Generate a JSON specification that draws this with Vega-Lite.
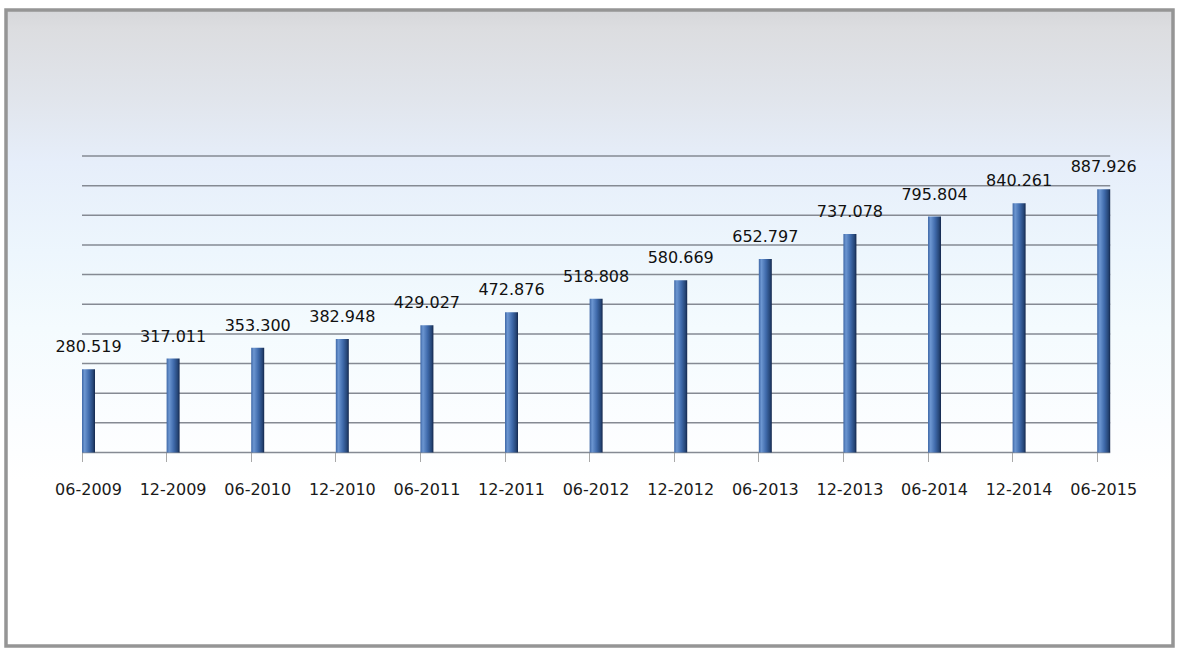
{
  "$schema": "https://vega.github.io/schema/vega-lite/v6.json",
  "width": 1179,
  "height": 650,
  "autosize": {"type": "fit", "contains": "padding"},
  "padding": {"left": 6, "top": 10, "right": 6, "bottom": 4},
  "background": "#ffffff",
  "config": {
    "view": {
      "stroke": "#959595",
      "strokeWidth": 3.5,
      "fill": {
        "gradient": "linear",
        "x1": 0, "y1": 0, "x2": 0, "y2": 1,
        "stops": [
          {"offset": 0, "color": "#d6d7da"},
          {"offset": 0.03, "color": "#dcdde0"},
          {"offset": 0.14, "color": "#e1e5ec"},
          {"offset": 0.24, "color": "#e6eefa"},
          {"offset": 0.38, "color": "#edf6fd"},
          {"offset": 0.5, "color": "#f4fbfe"},
          {"offset": 0.65, "color": "#fbfdff"},
          {"offset": 0.74, "color": "#ffffff"},
          {"offset": 1, "color": "#ffffff"}
        ]
      }
    },
    "font": "DejaVu Sans"
  },
  "datasets": {
    "bars": [
      {"period": "06-2009", "value": 280.519},
      {"period": "12-2009", "value": 317.011},
      {"period": "06-2010", "value": 353.300},
      {"period": "12-2010", "value": 382.948},
      {"period": "06-2011", "value": 429.027},
      {"period": "12-2011", "value": 472.876},
      {"period": "06-2012", "value": 518.808},
      {"period": "12-2012", "value": 580.669},
      {"period": "06-2013", "value": 652.797},
      {"period": "12-2013", "value": 737.078},
      {"period": "06-2014", "value": 795.804},
      {"period": "12-2014", "value": 840.261},
      {"period": "06-2015", "value": 887.926}
    ],
    "grid": [
      {"g": 0}, {"g": 100}, {"g": 200}, {"g": 300}, {"g": 400}, {"g": 500},
      {"g": 600}, {"g": 700}, {"g": 800}, {"g": 900}, {"g": 1000}
    ]
  },
  "layer": [
    {
      "data": {"name": "grid"},
      "mark": {"type": "rule", "color": "#858a93", "strokeWidth": 1.5},
      "encoding": {
        "x": {"datum": "06-2009", "type": "nominal", "bandPosition": 0,
              "scale": {"domain": ["06-2009","12-2009","06-2010","12-2010","06-2011","12-2011","06-2012","12-2012","06-2013","12-2013","06-2014","12-2014","06-2015"],
                        "paddingInner": 0.8463, "paddingOuter": 0.8203, "align": 0.5476},
              "axis": {
                "orient": "bottom", "offset": -193.5, "domain": false, "grid": false,
                "ticks": true, "tickColor": "#a8a8a8", "tickSize": 9, "bandPosition": 0,
                "labelOffset": 0, "labelAngle": 0, "labelFont": "DejaVu Sans", "labelFontSize": 16,
                "labelColor": "#1a1a1a", "labelPadding": 20, "title": null
              }},
        "x2": {"datum": "06-2015", "bandPosition": 1},
        "y": {"field": "g", "type": "quantitative", "scale": {"domain": [-652.6, 1492.4], "nice": false, "zero": false}, "axis": null}
      }
    },
    {
      "data": {"name": "bars"},
      "mark": {
        "type": "bar",
        "color": {
          "gradient": "linear",
          "x1": 0, "y1": 0, "x2": 1, "y2": 0,
          "stops": [
            {"offset": 0, "color": "#3e67a6"},
            {"offset": 0.2, "color": "#6c96d1"},
            {"offset": 0.55, "color": "#3f6aab"},
            {"offset": 0.85, "color": "#264677"},
            {"offset": 1, "color": "#13264b"}
          ]
        }
      },
      "encoding": {
        "x": {"field": "period", "type": "nominal", "sort": null},
        "y": {"field": "value", "type": "quantitative"}
      }
    },
    {
      "data": {"name": "bars"},
      "mark": {"type": "text", "baseline": "alphabetic", "align": "center", "dy": -17, "fontSize": 16, "font": "DejaVu Sans", "color": "#111111"},
      "encoding": {
        "x": {"field": "period", "type": "nominal"},
        "y": {"field": "value", "type": "quantitative"},
        "text": {"field": "value", "type": "quantitative", "format": ".3f"}
      }
    }
  ]
}
